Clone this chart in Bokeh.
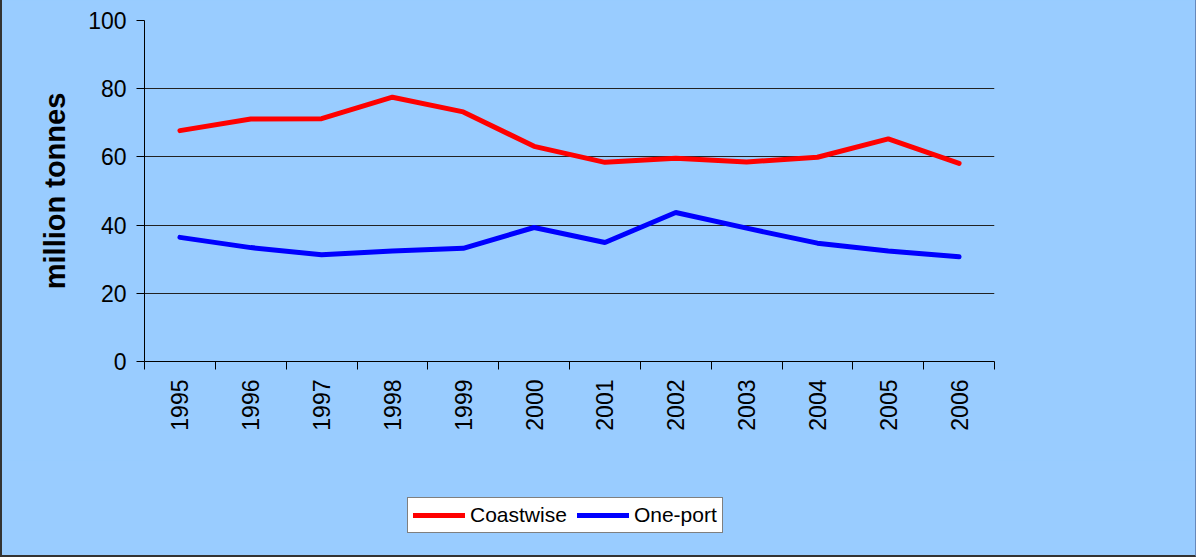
import numpy as np
from bokeh.plotting import figure
from bokeh.layouts import column
from bokeh.models import (Range1d, FixedTicker, Legend, LegendItem)
from bokeh.embed import file_html
from bokeh.resources import INLINE

# Annual tonnage, million tonnes
years = ["1995", "1996", "1997", "1998", "1999", "2000",
         "2001", "2002", "2003", "2004", "2005", "2006"]
coastwise = [67.7, 71.1, 71.2, 77.5, 73.2, 63.1, 58.4, 59.6, 58.5, 59.9, 65.3, 58.1]
one_port = [36.4, 33.4, 31.3, 32.4, 33.2, 39.3, 34.9, 43.7, 39.1, 34.7, 32.4, 30.7]
series_names = ["Coastwise", "One-port"]
series_colors = ["#FF0000", "#0000FF"]
y_ticks = [0, 20, 40, 60, 80, 100]

BG = "#99CCFF"
FONT = "Liberation Sans"
W = 1193

# each year occupies one unit slot; points sit in the middle of the slot
x_centres = list(np.arange(len(years)) + 0.5)
x_edges = list(range(len(years) + 1))

p = figure(width=W, height=460, output_backend="svg", toolbar_location=None,
           x_range=Range1d(0, len(years)), y_range=Range1d(0, 100),
           min_border_left=142, min_border_right=201, min_border_top=20,
           min_border_bottom=99)

p.background_fill_color = BG
p.border_fill_color = BG
p.outline_line_color = None

# x axis: labels at slot centres, tick marks on slot boundaries
p.xaxis.ticker = FixedTicker(ticks=x_centres, minor_ticks=x_edges)
p.xaxis.major_label_overrides = {c: y for c, y in zip(x_centres, years)}
p.xaxis.major_tick_out = 0
p.xaxis.major_tick_in = 0
p.xaxis.minor_tick_out = 8
p.xaxis.minor_tick_in = 0
p.xaxis.minor_tick_line_color = "black"
p.xaxis.major_label_orientation = np.pi / 2
p.xaxis.major_label_standoff = 10
p.xaxis.major_label_text_font = FONT
p.xaxis.major_label_text_font_size = "23px"
p.xaxis.major_label_text_color = "black"
p.xaxis.axis_line_color = "black"

# y axis
p.yaxis.ticker = FixedTicker(ticks=y_ticks, minor_ticks=[])
p.yaxis.major_tick_out = 8
p.yaxis.major_tick_in = 0
p.yaxis.major_tick_line_color = "black"
p.yaxis.major_label_standoff = 10
p.yaxis.major_label_text_font = FONT
p.yaxis.major_label_text_font_size = "23px"
p.yaxis.major_label_text_color = "black"
p.yaxis.axis_line_color = "black"
p.yaxis.axis_label = "million tonnes"
p.yaxis.axis_label_text_font = FONT
p.yaxis.axis_label_text_font_size = "29px"
p.yaxis.axis_label_text_font_style = "bold"
p.yaxis.axis_label_text_color = "black"
p.yaxis.axis_label_standoff = 14

p.xgrid.grid_line_color = None
p.ygrid.ticker = FixedTicker(ticks=y_ticks[1:])
p.ygrid.grid_line_color = "#222222"
p.ygrid.grid_line_width = 1

for vals, col in zip([coastwise, one_port], series_colors):
    p.line(x_centres, vals, line_color=col, line_width=5, line_cap="round")

# strip underneath the chart that carries the legend box; its ranges keep the
# key lines out of view so only the legend swatches show
lg = figure(width=W, height=95, output_backend="svg", toolbar_location=None,
            x_axis_type=None, y_axis_type=None, min_border=0,
            x_range=Range1d(0, 1), y_range=Range1d(1000, 1001))
lg.background_fill_color = BG
lg.border_fill_color = BG
lg.outline_line_color = None
lg.xgrid.visible = False
lg.ygrid.visible = False

items = []
for name, vals, col in zip(series_names, [coastwise, one_port], series_colors):
    key = lg.line(x_centres, vals, line_color=col, line_width=5, line_cap="round")
    items.append(LegendItem(label=name, renderers=[key]))

legend = Legend(items=items, orientation="horizontal", location=(263, 22),
                label_text_font=FONT, label_text_font_size="21px",
                label_text_color="black", label_standoff=5,
                glyph_width=52, glyph_height=20, spacing=10, padding=5,
                margin=0, border_line_color="black", border_line_width=1,
                background_fill_color="white", background_fill_alpha=1.0)
lg.add_layout(legend, "center")

page = column(p, lg, spacing=0)
page.styles = {"border-left": "2px solid #333333",
               "border-bottom": "2px solid #333333",
               "border-right": "1px solid #6688bb",
               "background-color": BG}

open("out.html", "w").write(file_html(page, INLINE))
